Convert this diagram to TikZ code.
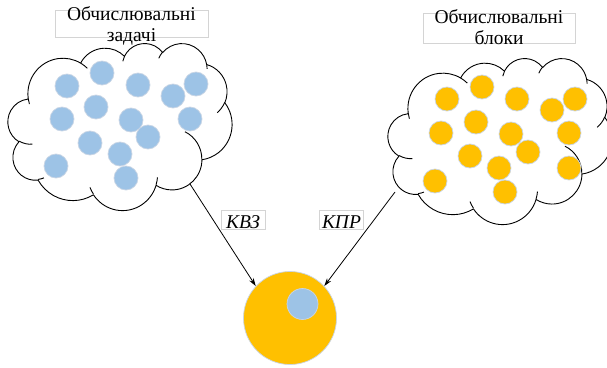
\documentclass[tikz,border=0pt]{standalone}
\usepackage{fontspec}
\setmainfont{Liberation Serif}
\usetikzlibrary{arrows.meta}
\definecolor{dotblue}{HTML}{9DC3E6}
\definecolor{dotorange}{HTML}{FFC000}
\definecolor{dotedge}{HTML}{C9D5E5}
\definecolor{boxedge}{HTML}{D4D4D4}
\tikzset{
  oarc/.style n args={4}{insert path={arc[x radius=#1, y radius=#2,
      start angle={atan2(#1*sin(#3),#2*cos(#3))},
      delta angle={mod(atan2(#1*sin(#3+#4),#2*cos(#3+#4))-atan2(#1*sin(#3),#2*cos(#3))+720,360)}]}},
  cloudline/.style={draw=black, line width=0.9pt, line join=round},
  bdot/.style={circle, fill=dotblue, draw=dotedge, line width=0.7pt, minimum size=24pt, inner sep=0pt},
  odot/.style={circle, fill=dotorange, draw=dotedge, line width=0.7pt, minimum size=24pt, inner sep=0pt},
  tbox/.style={draw=boxedge, line width=0.7pt, inner sep=0pt},
  ttext/.style={anchor=north, align=center, inner sep=0pt, font=\fontsize{19.5}{21}\selectfont},
  lab/.style={draw=boxedge, line width=0.7pt, inner sep=0pt, minimum width=44pt,
      text height=18pt, text depth=1pt, font=\fontsize{19.5}{21}\selectfont\itshape},
  arr/.style={draw=black, line width=0.8pt, -{Stealth[length=8pt, width=5pt]}}
}
\newcommand\ocloud[4]{%
  \begin{scope}[shift={(#1,#2)}, x=1cm, y=1cm, xscale={#3/43.2/28.4528}, yscale={-#4/43.2/28.4528}]
    \draw[cloudline, fill=white] (3.9,14.37)
      [oarc={6.753}{9.190}{-190.487}{123.781}]
      [oarc={5.333}{7.267}{-144.102}{89.945}]
      [oarc={4.365}{5.945}{-145.808}{99.723}]
      [oarc={4.857}{6.595}{-130.986}{117.242}]
      [oarc={5.333}{7.273}{-78.709}{109.027}]
      [oarc={6.775}{9.220}{-46.267}{130.269}]
      [oarc={5.785}{7.867}{0.625}{114.033}]
      [oarc={6.752}{9.215}{22.452}{115.173}]
      [oarc={7.720}{10.543}{66.243}{75.711}]
      [oarc={4.360}{5.918}{-274.942}{146.736}]
      [oarc={4.345}{5.945}{-246.829}{152.519}] -- cycle;
    \draw[cloudline]
      (4.693,26.177) [oarc={4.345}{5.945}{86.742}{26.430}]
      (6.928,34.899) [oarc={4.360}{5.918}{73.610}{11.447}]
      (16.478,39.090) [oarc={6.752}{9.215}{137.624}{14.081}]
      (28.827,34.751) [oarc={6.752}{9.215}{6.453}{15.998}]
      (34.129,22.954) [oarc={5.785}{7.867}{-70.292}{70.917}]
      (41.798,15.354) [oarc={5.333}{7.273}{30.318}{27.752}]
      (38.324,5.426) [oarc={4.857}{6.595}{-13.744}{14.859}]
      (29.078,3.952) [oarc={4.857}{6.595}{-149.181}{18.195}]
      (22.141,4.720) [oarc={4.365}{5.945}{-163.494}{17.686}]
      (14.000,5.192) [oarc={6.753}{9.190}{-66.707}{12.319}]
      (4.127,15.789) [oarc={6.753}{9.190}{157.654}{11.858}];
  \end{scope}}
\begin{document}
\begin{tikzpicture}[x=1pt, y=-1pt]
  \clip (0,0) rectangle (607,367);
  \fill[white] (0,0) rectangle (607,367);

  % clouds
  \ocloud{8}{43}{224}{167}
  \ocloud{388}{58}{224}{166}

  % titles
  \node[tbox, minimum width=153pt, minimum height=27pt] (lbox) at (131.5,23.5) {};
  \node[ttext] (ltitle) at (131.5,6.5) {Обчислювальні\\задачі};
  \node[tbox, minimum width=152pt, minimum height=30pt] (rbox) at (499,28) {};
  \node[ttext] (rtitle) at (499,9.5) {Обчислювальні\\блоки};

  % task dots
  \foreach \px/\py [count=\i] in {67/86,102/73,138/85,173/96,196/84,96/107,62/119,131/120,
      190/119,148/137,90/143,120/154,56/166,126/178}
    \node[bdot] (b\i) at (\px,\py) {};

  % block dots
  \foreach \px/\py [count=\i] in {447/99,482/87,517/99,552/110,575/99,476/122,441/133,511/134,
      569/133,528/152,470/156,499/168,569/168,435/181,505/192}
    \node[odot] (o\i) at (\px,\py) {};

  % result
  \node[circle, fill=dotorange, draw=dotedge, line width=0.7pt, minimum size=93pt, inner sep=0pt] (res) at (290,318) {};
  \node[bdot, minimum size=31pt] (inner) at (302.5,304) {};

  % connectors
  \coordinate (lstart) at (190,184);
  \coordinate (rstart) at (395,192);
  \draw[arr] (lstart) -- (res.137);
  \draw[arr] (rstart) -- (res.43);

  % labels
  \node[lab] (kvz) at (243,219.5) {КВЗ};
  \node[lab] (kpr) at (341.5,219.5) {КПР};
\end{tikzpicture}
\end{document}
